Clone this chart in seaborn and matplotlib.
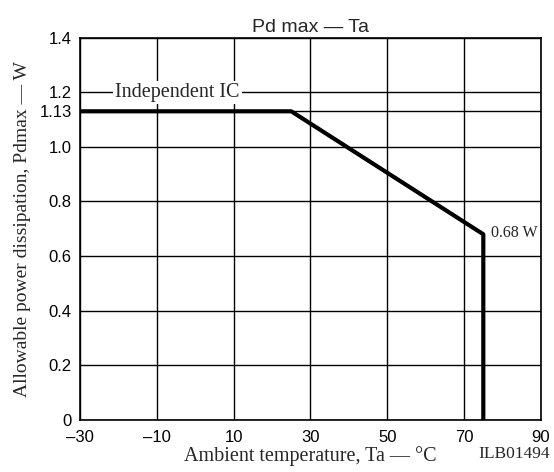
"""Pd max — Ta derating curve (Independent IC)."""

import matplotlib.pyplot as plt
import pandas as pd
import seaborn as sns

plt.switch_backend("Agg")

# derating curve
temperature_c = [-30, 25, 75, 75]
pd_max_w = [1.13, 1.13, 0.68, 0.0]

x_ticks = [-30, -10, 10, 30, 50, 70, 90]
x_tick_labels = ["–30", "–10", "10", "30", "50", "70", "90"]
y_ticks = [0, 0.2, 0.4, 0.6, 0.8, 1.0, 1.13, 1.2, 1.4]
y_tick_labels = ["0", "0.2", "0.4", "0.6", "0.8", "1.0", "1.13", "1.2", "1.4"]

curve = pd.DataFrame({"Ta": temperature_c, "Pdmax": pd_max_w})

sns.set_theme(style="white")
plt.rcParams["font.family"] = ["Liberation Sans", "DejaVu Sans"]
SERIF = ["Liberation Serif", "DejaVu Serif"]

fig = plt.figure(figsize=(5.54, 4.72), dpi=100)
ax = fig.add_axes([0.1444, 0.110, 0.832, 0.8105])

sns.lineplot(
    data=curve, x="Ta", y="Pdmax", sort=False, estimator=None,
    color="black", linewidth=3, ax=ax, zorder=4,
)

ax.set_xlim(-30, 90)
ax.set_ylim(0, 1.4)
ax.set_xticks(x_ticks, x_tick_labels)
ax.set_yticks(y_ticks, y_tick_labels)
ax.tick_params(axis="both", length=0, labelsize=12, colors="black")
ax.tick_params(axis="x", pad=7)
ax.tick_params(axis="y", pad=6)
ax.grid(True, color="black", linewidth=1)
for spine in ax.spines.values():
    spine.set_color("black")
    spine.set_linewidth(1.2)

ax.set_title("Pd max — Ta", fontsize=14, pad=4)
ax.set_xlabel("Ambient temperature, Ta — °C", family=SERIF, fontsize=14.5,
              labelpad=1)
ax.set_ylabel("Allowable power dissipation, Pdmax — W", family=SERIF,
              fontsize=14, labelpad=6)

ax.text(-4.6, 1.2, "Independent IC", family=SERIF, fontsize=14.5,
        ha="center", va="center", zorder=5,
        bbox=dict(facecolor="white", edgecolor="none", pad=1.5))
ax.text(77.0, 0.685, "0.68 W", family=SERIF, fontsize=11.5,
        ha="left", va="center", zorder=5)
fig.text(0.993, 0.03, "ILB01494", family=SERIF, fontsize=12.5,
         ha="right", va="baseline")

fig.savefig("out.png", dpi=100)
plt.close(fig)
